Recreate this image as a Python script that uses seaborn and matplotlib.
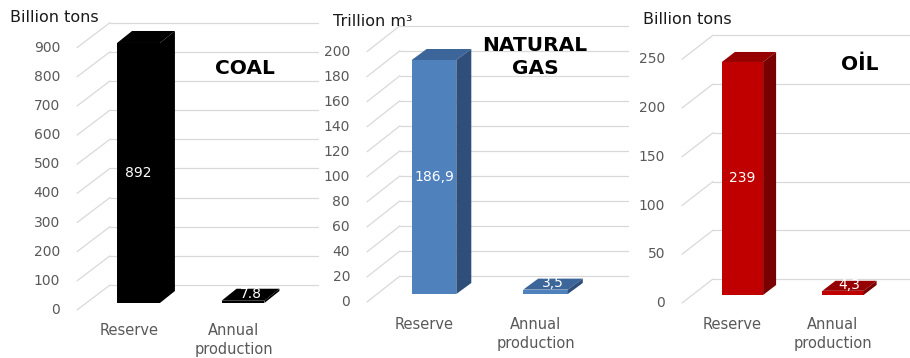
import matplotlib
matplotlib.use("Agg")
import matplotlib.pyplot as plt
import numpy as np
import pandas as pd
import seaborn as sns
from matplotlib.transforms import ScaledTranslation
from matplotlib.patches import Polygon
from matplotlib.lines import Line2D

# ---------------- data ----------------
categories = ["Reserve", "Annual\nproduction"]
coal_values = [892, 7.8]
gas_values = [186.9, 3.5]
oil_values = [239, 4.3]
coal_labels = ["892", "7.8"]
gas_labels = ["186,9", "3,5"]
oil_labels = ["239", "4,3"]
coal_ticks = [0, 100, 200, 300, 400, 500, 600, 700, 800, 900]
gas_ticks = [0, 20, 40, 60, 80, 100, 120, 140, 160, 180, 200]
oil_ticks = [0, 50, 100, 150, 200, 250]
units = ["Billion tons", "Trillion m³", "Billion tons"]
titles = ["COAL", "NATURAL\nGAS", "OİL"]

# ---------------- style ----------------
sns.set_theme(style="white")
plt.rcParams["font.family"] = ["DejaVu Sans"]

W, H = 910, 358
fig = plt.figure(figsize=(W / 100, H / 100), dpi=100)
fig.patch.set_facecolor("white")

GRID = "#D9D9D9"
TICK = "#595959"


def off(dx, dy_down):
    return ScaledTranslation(dx / 100, -dy_down / 100, fig.dpi_scale_trans)


panels = [
    dict(values=coal_values, labels=coal_labels, ticks=coal_ticks, unit=units[0], title=titles[0],
         c0=138.5, c1=243, w=0.41, base=303, scale=0.2915, axis_x=86, right=294,
         front=(-9, 7), back=(24, -18), depth=(15, -12),
         colors=("#000000", "#000000", "#000000"),
         unit_xy=(10, 18), title_xy=(245, 68), cat_gap=13),
    dict(values=gas_values, labels=gas_labels, ticks=gas_ticks, unit=units[1], title=titles[1],
         c0=434, c1=545.5, w=0.40, base=294, scale=1.252, axis_x=377, right=605,
         front=(-10, 8), back=(23, -18), depth=(15, -11),
         colors=("#4F81BD", "#3C6599", "#2F4F7A"),
         unit_xy=(333, 22), title_xy=(535, 57), cat_gap=15),
    dict(values=oil_values, labels=oil_labels, ticks=oil_ticks, unit=units[2], title=titles[2],
         c0=742.5, c1=843, w=0.41, base=295, scale=0.975, axis_x=692, right=889,
         front=(-10, 8), back=(21, -16), depth=(13, -10),
         colors=("#C00000", "#960000", "#780000"),
         unit_xy=(643, 20), title_xy=(860, 65), cat_gap=14),
]

to_fig = fig.transFigure.inverted()

for P in panels:
    ymax = P["ticks"][-1]
    top = P["base"] - ymax * P["scale"]
    ax = fig.add_axes([P["axis_x"] / W, 1 - P["base"] / H,
                       (P["right"] - P["axis_x"]) / W, (P["base"] - top) / H])
    ax.patch.set_visible(False)

    df = pd.DataFrame({"category": categories, "value": P["values"]})
    sns.barplot(data=df, x="category", y="value", ax=ax, color=P["colors"][0],
                saturation=1, width=P["w"], linewidth=0, errorbar=None, zorder=3)
    span = P["c1"] - P["c0"]
    xl = (P["axis_x"] - P["c0"]) / span
    xr = (P["right"] - P["c0"]) / span
    ax.set_xlim(xl, xr)
    ax.set_ylim(0, ymax)
    ax.axis("off")
    fig.canvas.draw()

    t_front = ax.transData + off(*P["front"])
    t_back = ax.transData + off(*P["back"])

    # back wall gridlines + side wall diagonals + tick labels
    for v in P["ticks"]:
        ax.plot([xl, xr], [v, v], transform=t_back, color=GRID, lw=0.9,
                clip_on=False, zorder=0)
        pf = to_fig.transform(t_front.transform((xl, v)))
        pb = to_fig.transform(t_back.transform((xl, v)))
        fig.add_artist(Line2D([pf[0], pb[0]], [pf[1], pb[1]], color=GRID, lw=0.9, zorder=0))
        ax.text(xl, v, str(v), transform=t_front + off(-17, 0), ha="right", va="center",
                fontsize=10, color=TICK, clip_on=False)

    # 3D faces for bars
    ddx, ddy = P["depth"]
    for p in ax.patches:
        x0 = p.get_x()
        x1 = x0 + p.get_width()
        h = p.get_height()
        A = ax.transData.transform((x0, h))
        B = ax.transData.transform((x1, h))
        C = ax.transData.transform((x1, 0))
        d = np.array([ddx, -ddy])
        topf = [A, B, B + d, A + d]
        side = [B, C, C + d, B + d]
        ax.add_patch(Polygon(to_fig.transform(np.array(topf)), closed=True,
                             transform=fig.transFigure, facecolor=P["colors"][1],
                             edgecolor="none", clip_on=False, zorder=3))
        ax.add_patch(Polygon(to_fig.transform(np.array(side)), closed=True,
                             transform=fig.transFigure, facecolor=P["colors"][2],
                             edgecolor="none", clip_on=False, zorder=3))

    # data labels
    for i, (v, lab) in enumerate(zip(P["values"], P["labels"])):
        if v / ymax > 0.1:
            ax.text(i, v / 2, lab, ha="center", va="center", color="white",
                    fontsize=10, zorder=5, clip_on=False)
        else:
            ax.text(i, v, lab, transform=ax.transData + off(ddx / 2, ddy / 2 - 1),
                    ha="center", va="center", color="white", fontsize=10,
                    zorder=5, clip_on=False)

    # category labels
    for i, cat in enumerate(categories):
        ax.text(i, 0, cat, transform=t_front + off(0, P["cat_gap"]), ha="center",
                va="top", multialignment="center", fontsize=10.5, color=TICK,
                linespacing=1.3, clip_on=False)

    # unit label and title
    ux, uy = P["unit_xy"]
    fig.text(ux / W, 1 - uy / H, P["unit"], ha="left", va="center",
             fontsize=11.5, color="#1A1A1A")
    tx, ty = P["title_xy"]
    fig.text(tx / W, 1 - ty / H, P["title"], ha="center", va="center",
             multialignment="center", fontsize=14.5, fontweight="bold",
             color="black", linespacing=1.3)

fig.savefig("out.png", dpi=100, facecolor="white")
